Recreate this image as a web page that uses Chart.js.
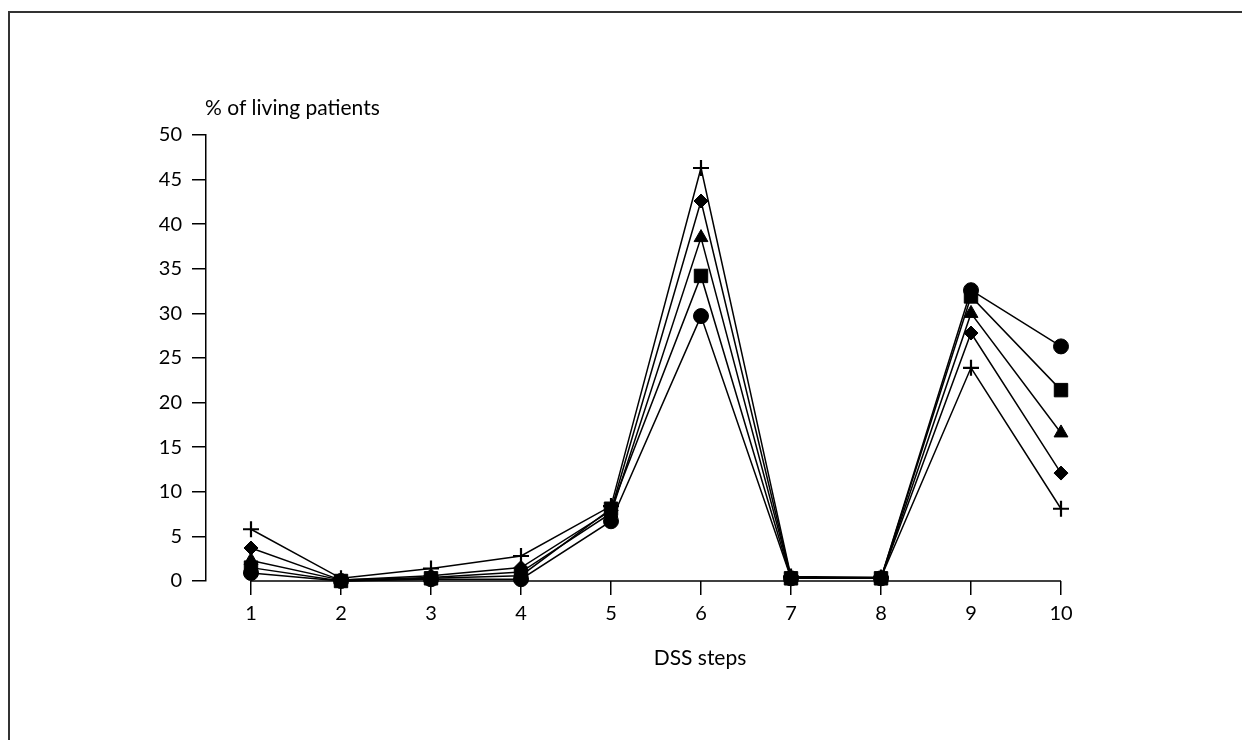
<!DOCTYPE html>
<html>
<head>
<meta charset="utf-8">
<script src="https://cdn.jsdelivr.net/npm/chart.js@4/dist/chart.umd.min.js"></script>
<style>
  html, body { margin: 0; padding: 0; background: #fff; }
</style>
</head>
<body>
<canvas id="chart" width="1242" height="740"></canvas>
<script>
// DSS steps on the x axis, % of living patients on the y axis
const steps = [1, 2, 3, 4, 5, 6, 7, 8, 9, 10];
const yTicks = [0, 5, 10, 15, 20, 25, 30, 35, 40, 45, 50];

const circleVals   = [0.9, 0.0, 0.2, 0.2, 6.7, 29.7, 0.3, 0.3, 32.6, 26.3];
const squareVals   = [1.5, 0.0, 0.3, 0.6, 8.1, 34.2, 0.3, 0.3, 31.9, 21.4];
const triangleVals = [2.3, 0.1, 0.4, 1.0, 7.6, 38.5, 0.4, 0.3, 30.0, 16.6];
const diamondVals  = [3.7, 0.1, 0.6, 1.5, 7.9, 42.6, 0.4, 0.4, 27.8, 12.1];
const plusVals     = [5.8, 0.3, 1.4, 2.8, 8.4, 46.3, 0.5, 0.4, 23.9, 8.1];

const FONT = 'Lato, "Open Sans", sans-serif';

function series(vals, style, radius) {
  return {
    data: steps.map((s, i) => ({ x: s, y: vals[i] })),
    borderColor: '#000',
    backgroundColor: '#000',
    borderWidth: 1.5,
    pointStyle: style,
    pointRadius: radius,
    pointHoverRadius: radius,
    pointBackgroundColor: '#000',
    pointBorderColor: '#000',
    pointBorderWidth: style === 'cross' ? 2.2 : 1,
    tension: 0,
    clip: false
  };
}

// frame, detached x axis line and the two axis captions
const decor = {
  id: 'decor',
  beforeDraw(chart) {
    const ctx = chart.ctx;
    ctx.save();
    ctx.fillStyle = '#fff';
    ctx.fillRect(0, 0, chart.width, chart.height);
    ctx.strokeStyle = '#333';
    ctx.lineWidth = 2;
    ctx.beginPath();
    ctx.moveTo(9, chart.height);
    ctx.lineTo(9, 12);
    ctx.lineTo(chart.width, 12);
    ctx.stroke();
    ctx.restore();
  },
  beforeDatasetsDraw(chart) {
    const ctx = chart.ctx;
    const x = chart.scales.x;
    const bottom = chart.chartArea.bottom;
    ctx.save();
    ctx.strokeStyle = '#000';
    ctx.lineWidth = 1.5;
    ctx.beginPath();
    ctx.moveTo(x.getPixelForValue(steps[0]), bottom);
    ctx.lineTo(x.getPixelForValue(steps[steps.length - 1]), bottom);
    ctx.stroke();

    ctx.fillStyle = '#000';
    ctx.font = '21px ' + FONT;
    ctx.textBaseline = 'alphabetic';
    ctx.textAlign = 'left';
    ctx.fillText('% of living patients', 205, 115);
    ctx.textAlign = 'center';
    ctx.fillText('DSS steps', 700, 665);
    ctx.restore();
  }
};

new Chart(document.getElementById('chart'), {
  type: 'line',
  data: {
    datasets: [
      series(circleVals, 'circle', 7.5),
      series(squareVals, 'rect', 9.5),
      series(triangleVals, 'triangle', 8),
      series(diamondVals, 'rectRot', 7),
      series(plusVals, 'cross', 8)
    ]
  },
  options: {
    responsive: false,
    animation: false,
    devicePixelRatio: 1,
    layout: { padding: { top: 135, right: 181, bottom: 0, left: 0 } },
    plugins: {
      legend: { display: false },
      tooltip: { enabled: false }
    },
    scales: {
      x: {
        type: 'linear',
        min: 0.5,
        max: 10,
        afterBuildTicks: s => { s.ticks = steps.map(v => ({ value: v })); },
        afterFit: s => { s.height = 159; },
        grid: { drawOnChartArea: false, drawTicks: true, tickLength: 14, color: '#000', lineWidth: 1.5 },
        border: { display: false },
        ticks: { color: '#000', font: { family: FONT, size: 20 }, padding: 7, maxRotation: 0, autoSkip: false }
      },
      y: {
        min: 0,
        max: 50,
        afterBuildTicks: s => { s.ticks = yTicks.map(v => ({ value: v })); },
        afterFit: s => { s.width = 206; },
        grid: { drawOnChartArea: false, drawTicks: true, tickLength: 14, color: '#000', lineWidth: 1.5 },
        border: { display: true, color: '#000', width: 1.5 },
        ticks: { color: '#000', font: { family: FONT, size: 20 }, padding: 10 }
      }
    }
  },
  plugins: [decor]
});
</script>
</body>
</html>
